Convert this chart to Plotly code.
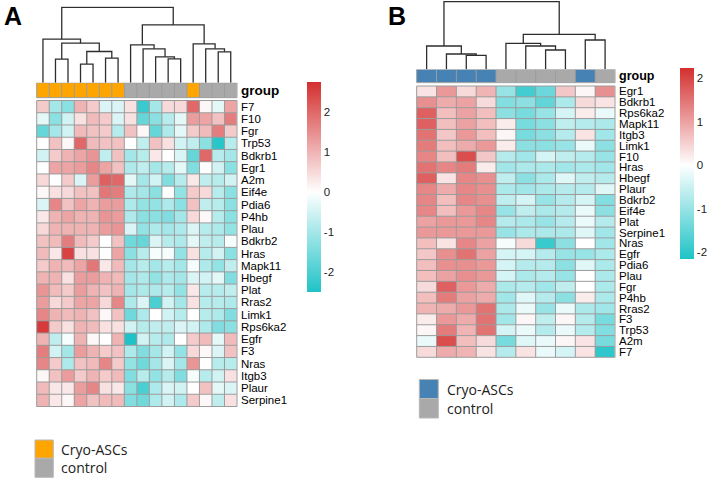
import plotly.graph_objects as go

W, H = 709, 480

# ---------------- Panel A data ----------------
genes_A = ["F7", "F10", "Fgr", "Trp53", "Bdkrb1", "Egr1", "A2m", "Eif4e", "Pdia6", "P4hb",
           "Plau", "Bdkrb2", "Hras", "Mapk11", "Hbegf", "Plat", "Rras2", "Limk1", "Rps6ka2",
           "Egfr", "F3", "Nras", "Itgb3", "Plaur", "Serpine1"]
groups_A = ["Cryo-ASCs"] * 7 + ["control"] * 5 + ["Cryo-ASCs"] + ["control"] * 3
values_A = [
    [0.7, -1.0, -1.3, 1.0, 0.7, -0.4, -0.4, 0.4, -2.2, -1.0, 0.5, 0.5, 2.0, 0.1, -0.3, 1.2],
    [-0.3, -1.3, -0.5, 0.4, 0.9, 0.7, -0.4, 0.4, -1.7, -1.3, -0.8, -0.3, 1.3, 1.2, 0.8, 1.7],
    [-1.7, -1.0, -0.5, 0.9, 0.8, 0.7, -0.8, 0.8, 0.1, -1.7, -0.9, -0.3, 0.7, 0.9, 1.7, 0.7],
    [0.0, 0.8, 0.1, 2.0, 0.9, 0.8, 0.8, 0.0, -0.7, 0.8, 0.4, -0.5, -0.7, -1.3, -2.4, -0.8],
    [-0.5, 0.7, 1.0, 1.2, 1.4, -0.7, 0.8, -1.0, -0.8, 0.3, 0.0, -0.4, -1.7, 2.0, -0.8, -1.0],
    [0.0, 1.2, 1.2, 1.3, 1.6, 1.2, 0.8, -0.9, -0.7, -1.0, -0.8, -0.3, -1.4, 0.0, -0.5, -1.3],
    [0.5, 0.0, 0.7, -0.4, 1.3, 2.1, 2.0, -0.3, -1.0, -0.5, -1.4, -0.8, 0.3, -0.7, -0.8, -0.5],
    [0.1, 0.4, 0.5, 0.8, 0.8, 1.8, 1.7, -0.9, -1.0, -1.3, 0.0, -1.2, 0.7, 0.5, -0.8, -1.3],
    [-0.4, 1.6, 0.8, 1.2, 1.0, 1.3, 1.3, -0.9, -1.2, -1.2, -0.9, -1.3, 0.8, -0.7, -0.8, -1.3],
    [0.3, 1.0, 1.2, 1.0, 1.0, 1.4, 1.3, -0.9, -1.3, -1.3, -1.4, -1.0, 0.5, 0.1, -0.8, -1.3],
    [0.5, 1.0, 1.0, 1.0, 1.0, 1.3, 1.4, -0.4, -1.2, -0.9, -1.0, -0.9, -0.4, -0.8, -0.9, -1.2],
    [0.8, 0.9, 1.7, 0.9, 0.7, 0.0, 0.8, -1.6, -1.7, -0.4, -0.8, -0.9, -0.3, -0.7, -0.8, -0.1],
    [0.9, 0.3, 2.5, 0.4, 0.4, 0.0, 1.2, -1.3, -0.8, -0.1, -0.1, -1.2, 0.4, -0.8, -0.5, -1.3],
    [0.7, 1.0, 0.9, 1.2, 1.8, 0.3, 0.9, -1.0, -0.8, -1.0, -0.8, -1.0, -0.1, -0.9, -1.2, -0.7],
    [1.0, 1.0, 0.4, 1.3, 1.3, 1.0, 0.9, -1.0, -0.9, -1.2, -0.9, -1.0, -0.4, -0.5, -0.3, -1.4],
    [1.4, 0.9, 0.7, 1.3, 1.0, 0.8, 1.0, -1.0, -0.9, -0.9, -0.8, -1.2, 0.3, -0.8, -0.8, -0.7],
    [1.3, 0.5, 0.7, 1.2, 1.2, 0.5, 1.6, -0.9, -0.4, -2.0, -0.5, -1.0, 0.4, -0.8, -0.8, -0.9],
    [1.6, 1.0, 0.9, 1.0, 0.8, 0.1, 0.8, -1.6, -0.9, 0.0, -0.5, -0.8, 0.0, -0.8, -0.9, -1.4],
    [2.6, 0.7, 0.4, 1.0, 0.9, 0.4, 0.4, -0.5, -0.8, -0.7, -0.7, -0.4, -0.5, -0.9, -1.4, -1.3],
    [1.0, -0.7, -0.1, 1.0, 0.1, 0.0, 1.0, -2.5, -0.5, -0.8, -0.9, 0.0, 0.7, 0.9, -0.3, 0.9],
    [1.7, -0.5, -1.0, 1.3, 1.0, 0.7, 0.8, -0.9, -1.4, -1.0, -0.5, -1.2, 0.5, 0.1, -0.4, 0.8],
    [1.6, 0.7, -0.9, 0.8, 0.9, 1.6, 0.7, -1.2, -1.6, -1.0, -0.4, -1.0, 1.4, 0.0, -0.8, -0.8],
    [0.1, 0.8, 1.3, 0.7, 1.0, 0.7, 0.9, -1.4, -0.8, -1.2, -0.8, -1.4, -0.1, -0.8, -0.5, 0.4],
    [0.9, 0.3, 0.3, 1.3, 1.6, 0.4, 0.3, -1.3, -2.0, -0.9, -0.4, -0.5, 0.0, 0.8, -0.3, -0.4],
    [1.0, 0.3, 0.1, 1.2, 0.8, 0.9, 0.9, -1.4, -1.6, -0.9, -0.5, -0.9, 0.7, 0.1, -0.7, 0.4],
]
# column dendrogram merges: (child, child, height); leaves 0..15, new clusters numbered from 16
merges_A = [(1, 2, 23.7), (3, 4, 18.7), (5, 6, 24.7), (17, 18, 31.3), (16, 19, 39.7),
            (0, 20, 43.7), (10, 11, 24.0), (9, 22, 26.0), (8, 23, 34.0), (7, 24, 38.0),
            (14, 15, 31.0), (13, 26, 34.0), (12, 27, 39.0), (25, 28, 58.0), (21, 29, 75.7)]
zrange_A = (-2.5, 2.75)
ticks_A = [-2, -1, 0, 1, 2]
ticklabels_A = ["-2", "-1", "0", "1", "2"]

# ---------------- Panel B data ----------------
genes_B = ["Egr1", "Bdkrb1", "Rps6ka2", "Mapk11", "Itgb3", "Limk1", "F10", "Hras", "Hbegf",
           "Plaur", "Bdkrb2", "Eif4e", "Plat", "Serpine1", "Nras", "Egfr", "Pdia6", "Plau",
           "Fgr", "P4hb", "Rras2", "F3", "Trp53", "A2m", "F7"]
groups_B = ["Cryo-ASCs"] * 4 + ["control"] * 4 + ["Cryo-ASCs"] + ["control"]
values_B = [
    [0.3, 1.1, 0.4, 0.8, -1.0, -1.8, -1.4, 0.6, 0.1, 1.2],
    [1.2, 0.9, 1.0, 0.4, -1.2, -1.1, -1.5, -0.8, 0.4, 0.3],
    [1.7, 0.7, 1.0, 0.7, -1.1, -1.3, -1.0, -0.4, 0.2, -0.2],
    [1.7, 0.7, 1.0, 0.7, 0.2, -1.3, -1.1, -0.6, -0.7, -0.8],
    [1.5, 0.6, 1.1, 0.7, 0.1, -1.3, -1.1, -0.7, 0.3, -0.9],
    [1.4, 0.7, 0.9, 1.1, 0.2, -1.1, -1.1, -1.0, -0.2, -1.1],
    [1.3, 0.7, 1.9, 0.6, -0.7, -0.9, -0.4, -0.6, -0.7, -1.0],
    [1.5, 1.3, 1.4, 0.2, -0.9, -0.8, -0.8, -0.9, -0.8, -0.9],
    [1.7, 0.3, 1.3, 1.2, -0.6, -1.1, -0.8, -0.3, -0.6, -0.7],
    [1.3, 0.9, 1.3, 1.2, -0.8, -0.9, -0.8, -0.7, -0.7, -0.3],
    [1.3, 0.7, 1.3, 1.2, -0.6, -0.4, -1.0, -0.7, -0.4, -1.2],
    [1.3, 0.7, 1.1, 1.3, -1.0, -0.6, -0.8, -0.7, -0.2, -1.1],
    [1.0, 1.1, 1.1, 1.3, -0.7, -0.8, -1.0, -0.7, -0.2, -0.7],
    [1.1, 1.1, 1.1, 1.1, -1.0, -0.8, -0.8, -0.8, -0.3, -0.9],
    [0.7, 0.3, 1.3, 1.0, -0.1, 0.4, -1.9, -1.1, 0.0, -0.9],
    [0.6, 1.2, 1.5, 1.0, -0.4, -0.4, -0.7, -1.0, -1.0, -0.8],
    [0.7, 1.2, 1.2, 1.1, -0.4, -0.7, -0.7, -1.1, -0.3, -0.8],
    [0.7, 1.0, 1.2, 1.1, -0.4, -0.8, -0.7, -1.0, 0.0, -0.8],
    [0.4, 1.7, 1.1, 0.9, -0.8, -0.7, -0.9, -0.6, 0.0, -0.8],
    [0.7, 1.4, 1.0, 0.9, -0.9, -0.3, -0.7, -1.1, 0.2, -0.8],
    [0.8, 0.9, 1.1, 1.5, -0.8, -0.2, -1.0, -0.2, -0.8, -0.9],
    [0.2, 1.1, 0.9, 1.5, -0.9, 0.1, -0.6, 0.1, -0.7, -1.3],
    [0.1, 1.4, 0.8, 1.5, -0.4, -0.2, -0.7, -0.2, -0.7, -1.2],
    [-0.2, 1.9, 0.7, 0.4, -1.3, -0.3, -0.2, 0.1, 0.3, -1.3],
    [0.4, 0.9, 0.8, 0.3, -0.7, 0.3, -0.2, -0.4, 0.3, -2.0],
]
merges_B = [(2, 3, 14.0), (1, 10, 15.3), (0, 11, 23.3), (6, 7, 19.3), (5, 13, 23.3),
            (4, 14, 26.0), (8, 9, 29.3), (15, 16, 35.0), (12, 17, 67.6)]
zrange_B = (-2.15, 2.23)
ticks_B = [-2, -1, 0, 1, 2]
ticklabels_B = ["-2", "-1", "0", "1", "2"]

# ---------------- styles ----------------
LOW, MID, HIGH = "#1FC3C7", "#FFFFFF", "#D42F2F"
GRID = "#9C9C9C"
DENDRO = "#2E2E2E"
GROUP_COLORS_A = {"Cryo-ASCs": "#FFA500", "control": "#A9A9A9"}
GROUP_COLORS_B = {"Cryo-ASCs": "#4682B4", "control": "#A9A9A9"}
FONT = "Liberation Sans"


def xdom(a, b):
    return [a / W, b / W]


def ydom(top, bottom):
    return [1 - bottom / H, 1 - top / H]


def dendro_lines(n, merges):
    pos = {i: float(i) for i in range(n)}
    hgt = {i: 0.0 for i in range(n)}
    xs, ys = [], []
    for k, (a, b, h) in enumerate(merges):
        xa, xb = pos[a], pos[b]
        xs += [xa, xa, xb, xb, None]
        ys += [hgt[a], h, h, hgt[b], None]
        pos[n + k] = (xa + xb) / 2
        hgt[n + k] = h
    return xs, ys


def grid_lines(nc, nr):
    xs, ys = [], []
    for i in range(nc + 1):
        xs += [i - 0.5, i - 0.5, None]
        ys += [-0.5, nr - 0.5, None]
    for j in range(nr + 1):
        xs += [-0.5, nc - 0.5, None]
        ys += [j - 0.5, j - 0.5, None]
    return xs, ys


fig = go.Figure()
layout = dict(width=W, height=H, margin=dict(l=0, r=0, t=0, b=0, pad=0),
              paper_bgcolor="white", plot_bgcolor="white", showlegend=False,
              template="none", font=dict(family=FONT, color="black"))


def add_panel(idx, genes, groups, values, merges, zr, ticks, ticklabels, gcolors,
              hx, htop, hbot, gtop, gbot, dtop, cb, gene_size, group_size):
    nc, nr = len(values[0]), len(genes)
    cw = (hx[1] - hx[0]) / nc
    ch = (hbot - htop) / nr
    ex = 1.0 / cw
    ey = 1.0 / ch
    xd = xdom(hx[0] - 1, hx[1] + 1)
    xr = [-0.5 - ex, nc - 0.5 + ex]
    a_h, a_g, a_d = 3 * idx + 1, 3 * idx + 2, 3 * idx + 3

    def nm(p, i):
        return p if i == 1 else f"{p}{i}"

    zmin, zmax = zr
    mid = -zmin / (zmax - zmin)
    cs = [[0, LOW], [mid, MID], [1, HIGH]]
    cbx0, cbx1, zero_px, per_unit = cb
    cb_top = zero_px - per_unit * zmax
    cb_len = per_unit * (zmax - zmin)

    # heatmap
    fig.add_trace(go.Heatmap(
        z=values, x=list(range(nc)), y=list(range(nr)), zmin=zmin, zmax=zmax,
        colorscale=cs, hoverinfo="skip",
        xaxis=nm("x", a_h), yaxis=nm("y", a_h),
        colorbar=dict(x=cbx0 / W, xanchor="left", xref="paper", y=1 - cb_top / H, yanchor="top",
                      yref="paper", len=cb_len / H, lenmode="fraction", thickness=cbx1 - cbx0,
                      thicknessmode="pixels", outlinewidth=0, xpad=0, ypad=0,
                      tickvals=ticks, ticktext=ticklabels, ticks="",
                      tickfont=dict(size=11.5, color="#222", family=FONT))))
    gx, gy = grid_lines(nc, nr)
    fig.add_trace(go.Scatter(x=gx, y=gy, mode="lines", line=dict(color=GRID, width=1),
                             hoverinfo="skip", xaxis=nm("x", a_h), yaxis=nm("y", a_h)))
    layout[nm("xaxis", a_h)] = dict(domain=xd, range=xr, visible=False, fixedrange=True)
    layout[nm("yaxis", a_h)] = dict(domain=ydom(htop - 1, hbot + 1),
                                    range=[nr - 0.5 + ey, -0.5 - ey], anchor=nm("x", a_h),
                                    side="right", tickvals=list(range(nr)), ticktext=genes,
                                    ticks="", showgrid=False, zeroline=False, showline=False,
                                    tickfont=dict(size=gene_size, family=FONT, color="black"),
                                    ticklabelstandoff=2, automargin=False, fixedrange=True)

    # group bar
    gz = [[1 if g == "Cryo-ASCs" else 0 for g in groups]]
    gcs = [[0, gcolors["control"]], [0.5, gcolors["control"]],
           [0.5, gcolors["Cryo-ASCs"]], [1, gcolors["Cryo-ASCs"]]]
    fig.add_trace(go.Heatmap(z=gz, x=list(range(nc)), y=[0], zmin=0, zmax=1, colorscale=gcs,
                             showscale=False, hoverinfo="skip",
                             xaxis=nm("x", a_g), yaxis=nm("y", a_g)))
    ggx, ggy = grid_lines(nc, 1)
    fig.add_trace(go.Scatter(x=ggx, y=ggy, mode="lines", line=dict(color=GRID, width=1),
                             hoverinfo="skip", xaxis=nm("x", a_g), yaxis=nm("y", a_g)))
    eyg = 1.0 / (gbot - gtop)
    layout[nm("xaxis", a_g)] = dict(domain=xd, range=xr, visible=False, fixedrange=True)
    layout[nm("yaxis", a_g)] = dict(domain=ydom(gtop - 1, gbot + 1), range=[0.5 + eyg, -0.5 - eyg],
                                    anchor=nm("x", a_g), side="right", tickvals=[0],
                                    ticktext=["<b>group</b>"], ticks="", showgrid=False,
                                    zeroline=False, showline=False, ticklabelstandoff=2,
                                    tickfont=dict(size=group_size, family=FONT, color="black"),
                                    automargin=False, fixedrange=True)

    # dendrogram
    dx, dy = dendro_lines(nc, merges)
    top_h = max(m[2] for m in merges)
    fig.add_trace(go.Scatter(x=dx, y=dy, mode="lines", line=dict(color=DENDRO, width=1.3),
                             hoverinfo="skip", xaxis=nm("x", a_d), yaxis=nm("y", a_d)))
    layout[nm("xaxis", a_d)] = dict(domain=xd, range=xr, visible=False, fixedrange=True)
    layout[nm("yaxis", a_d)] = dict(domain=ydom(dtop - 1, gtop),
                                    range=[0, top_h * (1 + 1.0 / (gtop - dtop))],
                                    anchor=nm("x", a_d), visible=False, fixedrange=True)


# Panel A
add_panel(0, genes_A, groups_A, values_A, merges_A, zrange_A, ticks_A, ticklabels_A, GROUP_COLORS_A,
          hx=(36.7, 237.0), htop=100.5, hbot=406.5, gtop=82.7, gbot=97.7, dtop=7.3,
          cb=(307.3, 321.7, 191.7, 40.0), gene_size=11.5, group_size=13.5)
# Panel B
add_panel(1, genes_B, groups_B, values_B, merges_B, zrange_B, ticks_B, ticklabels_B, GROUP_COLORS_B,
          hx=(416.7, 615.0), htop=86.0, hbot=357.3, gtop=69.3, gbot=82.7, dtop=1.7,
          cb=(680.0, 694.3, 165.0, 43.5), gene_size=11.5, group_size=12.5)

# panel letters
annotations = [
    dict(text="<b>A</b>", x=13 / W, y=1 - 16 / H, xref="paper", yref="paper", showarrow=False,
         font=dict(size=25, family=FONT, color="black"), xanchor="center", yanchor="middle"),
    dict(text="<b>B</b>", x=397 / W, y=1 - 16 / H, xref="paper", yref="paper", showarrow=False,
         font=dict(size=25, family=FONT, color="black"), xanchor="center", yanchor="middle"),
]
shapes = []


def add_legend(x0, x1, y0, ymid, y1, tx, colors):
    shapes.append(dict(type="rect", xref="paper", yref="paper", x0=x0 / W, x1=x1 / W,
                       y0=1 - ymid / H, y1=1 - y0 / H, fillcolor=colors["Cryo-ASCs"],
                       line=dict(color="#B8B8B8", width=1)))
    shapes.append(dict(type="rect", xref="paper", yref="paper", x0=x0 / W, x1=x1 / W,
                       y0=1 - y1 / H, y1=1 - ymid / H, fillcolor=colors["control"],
                       line=dict(color="#B8B8B8", width=1)))
    for lab, yc in (("Cryo-ASCs", (y0 + ymid) / 2), ("control", (ymid + y1) / 2)):
        annotations.append(dict(text=lab, x=tx / W, y=1 - yc / H, xref="paper", yref="paper",
                                showarrow=False, xanchor="left", yanchor="middle",
                                font=dict(size=14, family="Open Sans", color="#222")))


add_legend(35, 53.3, 440, 458.3, 477.3, 59, GROUP_COLORS_A)
add_legend(419.3, 438.3, 379.5, 398.5, 418, 445, GROUP_COLORS_B)

layout["annotations"] = annotations
layout["shapes"] = shapes
fig.update_layout(**layout)
fig.write_html("out.html", config={"displayModeBar": False, "staticPlot": True},
               post_script="document.body.style.margin='0';document.body.style.padding='0';")
